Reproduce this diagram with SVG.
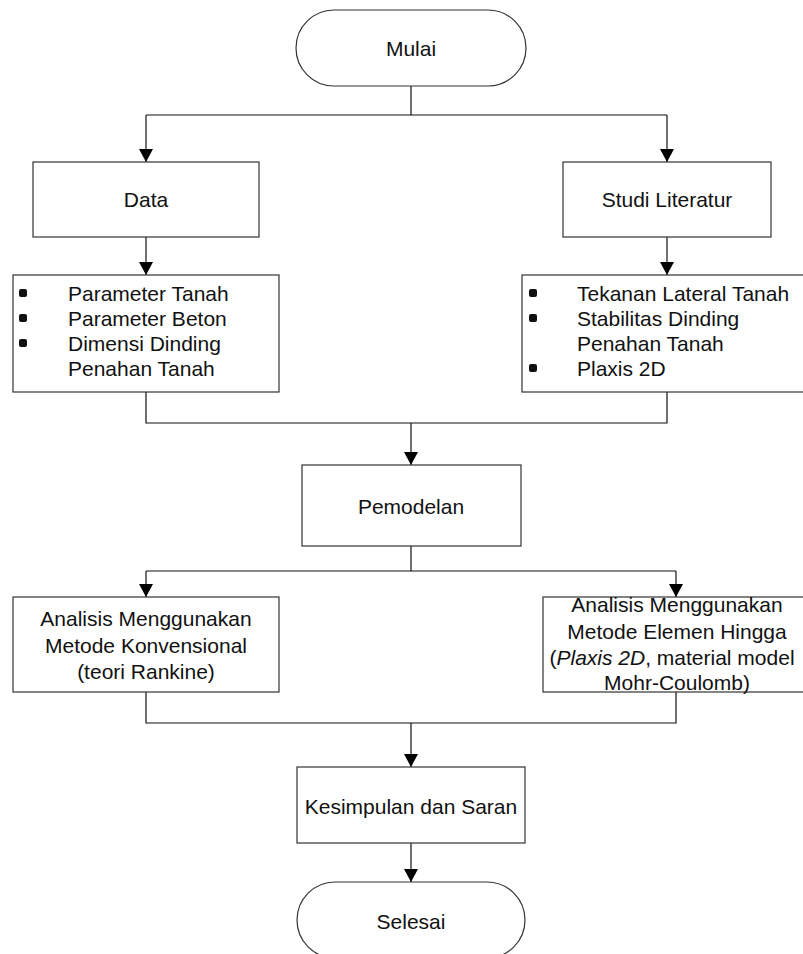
<svg xmlns="http://www.w3.org/2000/svg" width="803" height="954" viewBox="0 0 803 954">
<style>
.box{fill:#fff;stroke:#333;stroke-width:1.2}
.ln{fill:none;stroke:#111;stroke-width:1.2}
text{font-family:"Liberation Sans",Arial,sans-serif;font-size:21px;fill:#111}
.c{text-anchor:middle}
.b{fill:#111}
</style>
<defs>
<marker id="ah" viewBox="0 0 13 14" refX="13" refY="7" markerWidth="13" markerHeight="14" markerUnits="userSpaceOnUse" orient="auto">
<path d="M0,0 L13,7 L0,14 Z" fill="#000"/>
</marker>
</defs>
<g id="connectors">
<path class="ln" d="M411,86 V115 M146,115 H667"/>
<path class="ln" d="M146,115 V162" marker-end="url(#ah)"/>
<path class="ln" d="M667,115 V162" marker-end="url(#ah)"/>
<path class="ln" d="M146,237 V275" marker-end="url(#ah)"/>
<path class="ln" d="M667,237 V275" marker-end="url(#ah)"/>
<path class="ln" d="M146,392 V423 H667 V392"/>
<path class="ln" d="M411,423 V465" marker-end="url(#ah)"/>
<path class="ln" d="M411,546 V571 M146,571 H676"/>
<path class="ln" d="M146,571 V597" marker-end="url(#ah)"/>
<path class="ln" d="M676,571 V597" marker-end="url(#ah)"/>
<path class="ln" d="M146,692 V723 H676 V692"/>
<path class="ln" d="M411,723 V767" marker-end="url(#ah)"/>
<path class="ln" d="M411,843 V882" marker-end="url(#ah)"/>
</g>
<g id="mulai">
<rect class="box" x="296" y="10" width="230" height="76" rx="38" ry="38"/>
<text class="c" x="411" y="55.5">Mulai</text>
</g>
<g id="data">
<rect class="box" x="33" y="162" width="226" height="75"/>
<text class="c" x="146" y="206.5">Data</text>
</g>
<g id="studi">
<rect class="box" x="563" y="162" width="208" height="75"/>
<text class="c" x="667" y="206.5">Studi Literatur</text>
</g>
<g id="data-list">
<rect class="box" x="13" y="275" width="266" height="117"/>
<rect class="b" x="19" y="289" width="8" height="8" rx="2"/>
<rect class="b" x="19" y="314" width="8" height="8" rx="2"/>
<rect class="b" x="19" y="339" width="8" height="8" rx="2"/>
<text x="68" y="300.5">Parameter Tanah</text>
<text x="68" y="325.5">Parameter Beton</text>
<text x="68" y="350.5">Dimensi Dinding</text>
<text x="68" y="375.5">Penahan Tanah</text>
</g>
<g id="studi-list">
<rect class="box" x="522" y="275" width="292" height="117"/>
<rect class="b" x="529" y="289" width="8" height="8" rx="2"/>
<rect class="b" x="529" y="314" width="8" height="8" rx="2"/>
<rect class="b" x="529" y="364" width="8" height="8" rx="2"/>
<text x="577" y="300.5">Tekanan Lateral Tanah</text>
<text x="577" y="325.5">Stabilitas Dinding</text>
<text x="577" y="350.5">Penahan Tanah</text>
<text x="577" y="375.5">Plaxis 2D</text>
</g>
<g id="pemodelan">
<rect class="box" x="302" y="465" width="219" height="81"/>
<text class="c" x="411" y="513.5">Pemodelan</text>
</g>
<g id="konvensional">
<rect class="box" x="13" y="597" width="266" height="95"/>
<text class="c" x="146" y="625.5">Analisis Menggunakan</text>
<text class="c" x="146" y="652.5">Metode Konvensional</text>
<text class="c" x="146" y="678.5">(teori Rankine)</text>
</g>
<g id="fem">
<rect class="box" x="543" y="597" width="268" height="95"/>
<text class="c" x="677" y="612">Analisis Menggunakan</text>
<text class="c" x="677" y="639">Metode Elemen Hingga</text>
<text class="c" x="672" y="665">(<tspan font-style="italic">Plaxis 2D</tspan>, material model</text>
<text class="c" x="677" y="690">Mohr-Coulomb)</text>
</g>
<g id="kesimpulan">
<rect class="box" x="297" y="767" width="228" height="76"/>
<text class="c" x="411" y="814">Kesimpulan dan Saran</text>
</g>
<g id="selesai">
<rect class="box" x="297" y="882" width="228" height="76" rx="38" ry="38"/>
<text class="c" x="411" y="929">Selesai</text>
</g>
</svg>
